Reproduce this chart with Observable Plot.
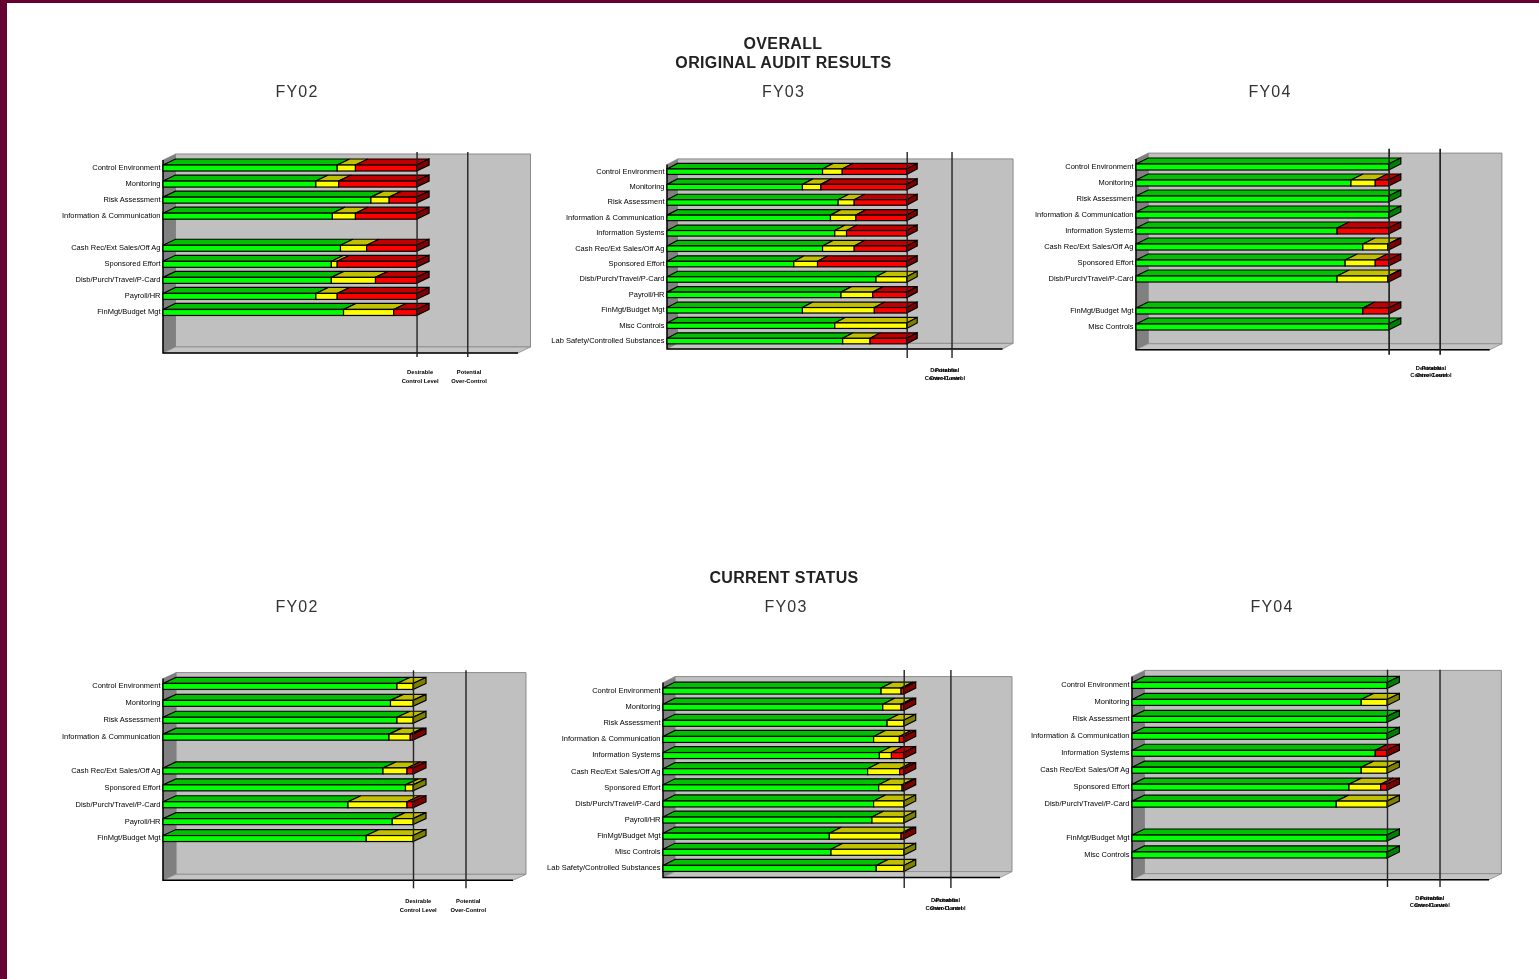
<!DOCTYPE html>
<html>
<head>
<meta charset="utf-8">
<script src="https://cdn.jsdelivr.net/npm/d3@7"></script>
<script src="https://cdn.jsdelivr.net/npm/@observablehq/plot@0.6"></script>
<style>
html,body{margin:0;padding:0;background:#fff;}
#page{position:relative;width:1539px;height:979px;overflow:hidden;background:#fff;font-family:"Liberation Sans",Arial,sans-serif;filter:blur(0.45px);}
#borderTop{position:absolute;left:0;top:0;width:1539px;height:3px;background:#660033;}
#borderLeft{position:absolute;left:0;top:0;width:7px;height:979px;background:#660033;}
.head{position:absolute;transform:translateX(-50%);white-space:nowrap;color:#222;}
.h1{font-size:16px;font-weight:bold;letter-spacing:.35px;}
.h2{font-size:16px;letter-spacing:1.2px;color:#333;}
.panel{position:absolute;}
.panel svg{overflow:visible;background:transparent;}
</style>
</head>
<body>
<div id="page">
<div id="borderTop"></div><div id="borderLeft"></div>
</div>
<script>
const categories = ["Control Environment","Monitoring","Risk Assessment","Information & Communication","Information Systems","Cash Rec/Ext Sales/Off Ag","Sponsored Effort","Disb/Purch/Travel/P-Card","Payroll/HR","FinMgt/Budget Mgt","Misc Controls","Lab Safety/Controlled Substances"];
const statuses = ["Satisfactory","Marginal","Unsatisfactory"];
const frontColors = ["#00ff00","#ffff00","#ff0000"];
const topColors = ["#00c000","#c0c000","#c00000"];
const sideColors = ["#008000","#808000","#800000"];
const refLabels = ["Desirable\nControl Level","Potential\nOver-Control"];

// OVERALL / ORIGINAL AUDIT RESULTS
const origFY02Green  = [68.7,60.3,82.0,66.8,null,70.0,66.4,66.4,60.3,71.2,null,null];
const origFY02Yellow = [7.2,9.0,7.2,9.1,null,10.3,2.3,17.4,8.4,19.8,null,null];
const origFY02Red    = [24.1,30.7,10.8,24.1,null,19.7,31.3,16.2,31.3,9.0,null,null];
const origFY03Green  = [64.9,56.5,71.4,68.2,70.0,64.9,52.9,87.2,72.6,56.5,70.0,73.3];
const origFY03Yellow = [8.2,7.7,6.7,10.6,4.9,13.2,9.9,12.8,13.2,30.0,30.0,11.4];
const origFY03Red    = [26.9,35.8,21.9,21.2,25.1,21.9,37.2,0,14.2,13.5,0,15.3];
const origFY04Green  = [100,85.1,100,100,79.6,89.8,82.8,79.6,null,89.8,100,null];
const origFY04Yellow = [0,9.6,0,0,0,9.9,11.9,20.1,null,0,0,null];
const origFY04Red    = [0,5.3,0,0,20.4,0.3,5.3,0.3,null,10.2,0,null];
// CURRENT STATUS
const currFY02Green  = [93.6,91.0,93.6,90.4,null,88.0,97.0,74.0,91.7,81.3,null,null];
const currFY02Yellow = [6.4,9.0,6.4,8.5,null,9.6,3.0,23.6,8.3,18.7,null,null];
const currFY02Red    = [0,0,0,1.1,null,2.4,0,2.4,0,0,null,null];
const currFY03Green  = [90.6,91.3,93.1,87.5,89.9,85.0,89.6,87.5,86.8,69.1,69.8,88.6];
const currFY03Yellow = [8.3,7.6,6.9,10.7,5.0,13.3,9.7,12.5,13.2,29.8,30.2,11.4];
const currFY03Red    = [1.1,1.1,0,1.8,5.1,1.7,0.7,0,0,1.1,0,0];
const currFY04Green  = [100,89.9,100,100,95.4,89.9,85.1,80.1,null,100,100,null];
const currFY04Yellow = [0,10.1,0,0,0,10.1,12.4,19.9,null,0,0,null];
const currFY04Red    = [0,0,0,0,4.6,0,2.5,0,null,0,0,null];

const headings = [
  ["h1","OVERALL",783,35],["h1","ORIGINAL AUDIT RESULTS",783.5,54],
  ["h2","FY02",297,83],["h2","FY03",783.5,83],["h2","FY04",1270,83],
  ["h1","CURRENT STATUS",784,569],
  ["h2","FY02",297,598],["h2","FY03",786,598],["h2","FY04",1272,598]
];

const panels = [
 {s:[origFY02Green,origFY02Yellow,origFY02Red],left:163,right:518,rowsTop:160,rowsBottom:352.6,floor:353,wallTop:154,dx:12.5,dy:6,fh:6,refs:[100,120],labelX:[101.2,120.5],lineTop:152,lineBottom:357,labelY:373,labelGap:9,ruleW:1.4},
 {s:[origFY03Green,origFY03Yellow,origFY03Red],left:667,right:1002.6,rowsTop:164.1,rowsBottom:348.9,floor:349,wallTop:159,dx:10.5,dy:5.5,fh:5.5,refs:[100,118.7],labelX:[115,116.7],lineTop:152,lineBottom:358,labelY:371,labelGap:8,ruleW:1.4},
 {s:[origFY04Green,origFY04Yellow,origFY04Red],left:1135.7,right:1489.4,rowsTop:159.2,rowsBottom:351.2,floor:350,wallTop:153.3,dx:12.2,dy:6,fh:6,refs:[100,120.2],labelX:[115.7,117.7],lineTop:149,lineBottom:355,labelY:370,labelGap:7,ruleW:1.7},
 {s:[currFY02Green,currFY02Yellow,currFY02Red],left:163.3,right:513.3,rowsTop:677.7,rowsBottom:880.5,floor:880,wallTop:672.3,dx:13,dy:6,fh:6,refs:[100,121],labelX:[101.9,121.9],lineTop:670,lineBottom:888,labelY:901,labelGap:9,ruleW:1.4},
 {s:[currFY03Green,currFY03Yellow,currFY03Red],left:662.7,right:999.7,rowsTop:683.1,rowsBottom:876.6,floor:877.7,wallTop:676.7,dx:12,dy:6,fh:6,refs:[100,119.4],labelX:[116.5,118.1],lineTop:670,lineBottom:888,labelY:901,labelGap:8,ruleW:1.4},
 {s:[currFY04Green,currFY04Yellow,currFY04Red],left:1132.3,right:1489.3,rowsTop:677.3,rowsBottom:880.7,floor:880,wallTop:670.7,dx:12.4,dy:6,fh:6,refs:[100,120.6],labelX:[116,117.5],lineTop:670,lineBottom:887.3,labelY:900.7,labelGap:7,ruleW:1.4}
];

const page = document.getElementById("page");
const NS = "http://www.w3.org/2000/svg";
function poly(g, pts, fill, stroke, sw){
  const p = document.createElementNS(NS,"polygon");
  p.setAttribute("points", pts.map(d=>d.join(",")).join(" "));
  p.setAttribute("fill", fill);
  p.setAttribute("stroke", stroke);
  p.setAttribute("stroke-width", sw);
  p.setAttribute("stroke-linejoin","miter");
  g.appendChild(p);
}

for (const [cls,text,x,y] of headings){
  const d = document.createElement("div");
  d.className = "head "+cls; d.textContent = text;
  d.style.left = x+"px"; d.style.top = y+"px";
  page.appendChild(d);
}

for (const c of panels){
  const [gr,ye,re] = c.s;
  const rows = [];
  categories.forEach((cat,i)=>{
    if (gr[i]==null) return;
    [gr[i],ye[i],re[i]].forEach((v,k)=>{ if (v>0) rows.push({cat,status:statuses[k],value:v}); });
  });
  const present = categories.filter((_,i)=>gr[i]!=null);
  const mL=130, mR=40, mT=20, mB=45;
  const width = c.right-c.left+mL+mR;
  const height = c.rowsBottom-c.rowsTop+mT+mB;
  const bw = (c.rowsBottom-c.rowsTop)/categories.length;
  const inset = (bw-c.fh)/2;

  // room: back wall, left wall, floor, axes
  const room = (index,{x})=>{
    const g = document.createElementNS(NS,"g");
    const X0=x(0), X1=x(140), Yf=mT+(c.floor-c.rowsTop), wt=mT-(c.rowsTop-c.wallTop);
    poly(g,[[X0+c.dx,wt],[X1+c.dx,wt],[X1+c.dx,Yf-c.dy],[X0+c.dx,Yf-c.dy]],"#c0c0c0","#8c8c8c",1);
    poly(g,[[X0,wt+c.dy],[X0+c.dx,wt],[X0+c.dx,Yf-c.dy],[X0,Yf]],"#808080","#808080",0.5);
    poly(g,[[X0,Yf],[X0+c.dx,Yf-c.dy],[X1+c.dx,Yf-c.dy],[X1,Yf]],"#c4c4c4","#8c8c8c",0.8);
    const l=document.createElementNS(NS,"path");
    l.setAttribute("d",`M${X0},${wt+c.dy}V${Yf}H${X1}`);
    l.setAttribute("fill","none"); l.setAttribute("stroke","#000"); l.setAttribute("stroke-width",1.5);
    g.appendChild(l);
    return g;
  };
  // depth faces of the bars, from the same x and y scales
  const faces = (index,{x,y})=>{
    const g = document.createElementNS(NS,"g");
    categories.forEach((cat,i)=>{
      if (gr[i]==null) return;
      const yFront = y(cat)+bw/2-c.fh/2;
      let acc=0, last=0;
      [gr[i],ye[i],re[i]].forEach((v,k)=>{
        if (!(v>0)) return;
        const a=x(acc), b=x(acc+v);
        poly(g,[[a,yFront],[a+c.dx,yFront-c.dy],[b+c.dx,yFront-c.dy],[b,yFront]],topColors[k],"#000",1.2);
        acc+=v; last=k;
      });
      const e=x(acc);
      poly(g,[[e,yFront],[e+c.dx,yFront-c.dy],[e+c.dx,yFront+c.fh-c.dy],[e,yFront+c.fh]],sideColors[last],"#000",1.2);
    });
    return g;
  };

  const labelData = c.refs.map((r,i)=>({x:c.labelX[i],text:refLabels[i]}));
  const fs = 5.8;
  const chart = Plot.plot({
    width, height, marginLeft:mL, marginRight:mR, marginTop:mT, marginBottom:mB,
    style:{background:"transparent",fontFamily:"'Liberation Sans',Arial,sans-serif",overflow:"visible"},
    x:{domain:[0,140],axis:null},
    y:{domain:categories,padding:0,round:false,axis:null},
    color:{domain:statuses,range:frontColors},
    marks:[
      room,
      faces,
      Plot.barX(rows,{x:"value",y:"cat",fill:"status",stroke:"#000",strokeWidth:1.2,insetTop:inset,insetBottom:inset}),
      Plot.ruleX(c.refs,{stroke:"#222",strokeWidth:c.ruleW,insetTop:-(c.rowsTop-c.lineTop),insetBottom:-(c.lineBottom-c.rowsBottom)}),
      Plot.axisY({ticks:present,tickSize:0,tickPadding:3,label:null,fontSize:7.5,dy:-1,fill:"#000"}),
      Plot.text(labelData,{x:"x",text:"text",frameAnchor:"bottom",lineAnchor:"top",dy:c.labelY-5.5-c.rowsBottom,fontSize:fs,fontWeight:"bold",lineHeight:c.labelGap/fs,fill:"#000"})
    ]
  });
  const holder = document.createElement("div");
  holder.className="panel";
  holder.style.left=(c.left-mL)+"px";
  holder.style.top=(c.rowsTop-mT)+"px";
  holder.appendChild(chart);
  page.appendChild(holder);
}
</script>
</body>
</html>
